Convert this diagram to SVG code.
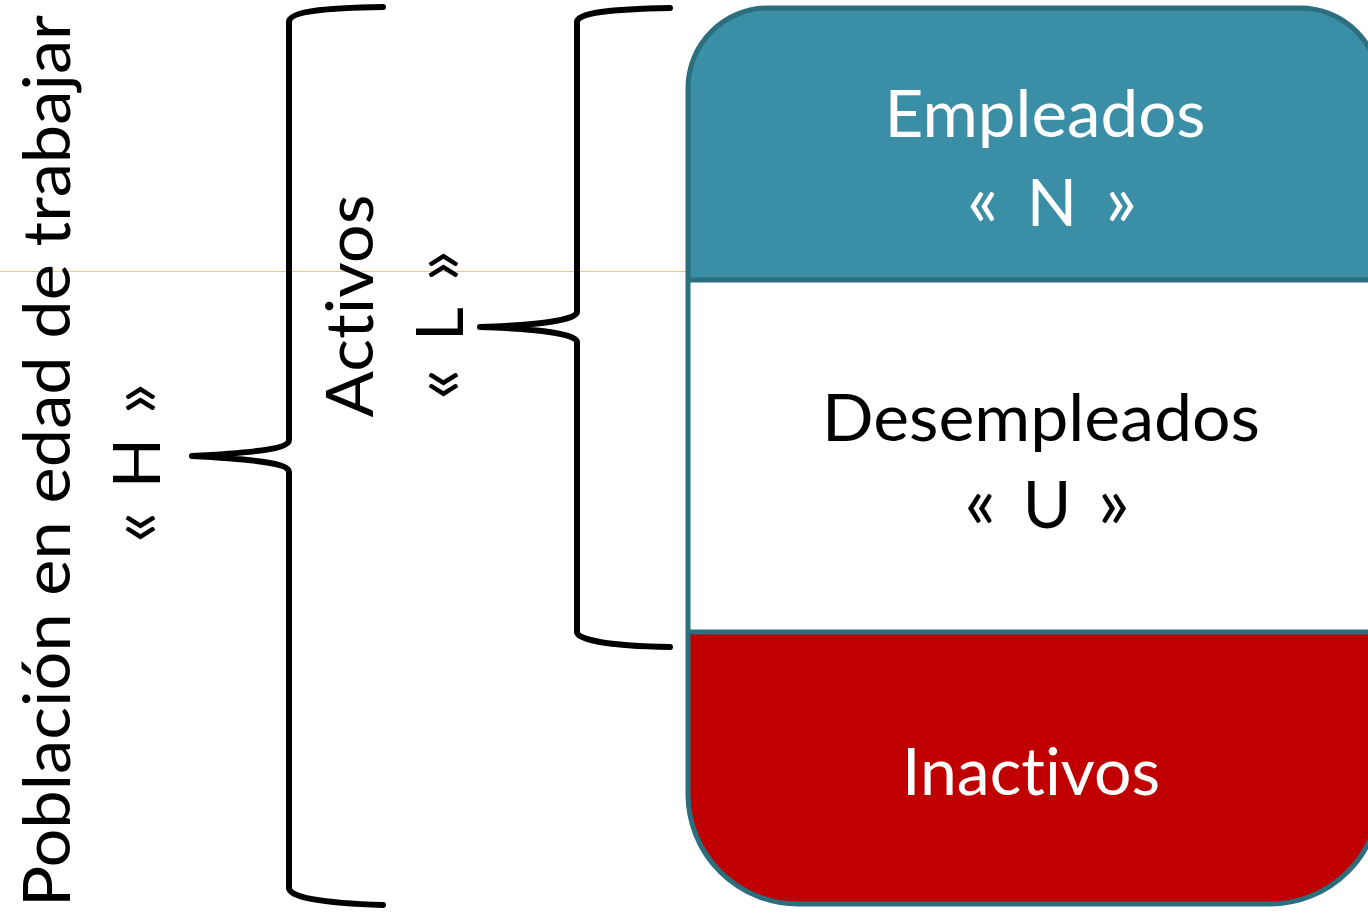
<svg xmlns="http://www.w3.org/2000/svg" width="1368" height="919" viewBox="0 0 1368 919">
<style>
.t{font-family:Lato,"Noto Sans","Liberation Sans",sans-serif;font-size:66px;text-anchor:middle;font-variant-ligatures:none;font-feature-settings:"liga" 0}
.g{font-size:74px}
.w{fill:#ffffff}
.k{fill:#000000}
.brace{fill:none;stroke:#000000;stroke-width:6;stroke-linecap:round;stroke-linejoin:round}
.edge{fill:none;stroke:#2b6e7d;stroke-width:5}
</style>
<rect width="1368" height="919" fill="#ffffff"/>
<line x1="0" y1="271.5" x2="686" y2="271.5" stroke="#ecc880" stroke-width="1"/>
<g id="empleados">
<path d="M688,280 L688,88 A80,80 0 0 1 768,8 L1300,8 A80,80 0 0 1 1380,88 L1380,280 Z" fill="#3a8fa6"/>
<text class="t w" x="1045" y="137" textLength="321" lengthAdjust="spacingAndGlyphs">Empleados</text>
<text class="t w" x="1052" y="226" textLength="170" lengthAdjust="spacing"><tspan class="g">«</tspan> N <tspan class="g">»</tspan></text>
</g>
<g id="desempleados">
<rect x="688" y="280" width="692" height="352" fill="#ffffff"/>
<text class="t k" x="1041" y="441" textLength="438" lengthAdjust="spacingAndGlyphs">Desempleados</text>
<text class="t k" x="1047" y="528" textLength="165" lengthAdjust="spacing"><tspan class="g">«</tspan> U <tspan class="g">»</tspan></text>
</g>
<g id="inactivos">
<path d="M688,632 L688,794 A110,110 0 0 0 798,904 L1270,904 A110,110 0 0 0 1380,794 L1380,632 Z" fill="#c00000"/>
<text class="t w" x="1031" y="795" textLength="258" lengthAdjust="spacingAndGlyphs">Inactivos</text>
</g>
<g id="outline">
<path class="edge" d="M688,280 L688,88 A80,80 0 0 1 768,8 L1300,8 A80,80 0 0 1 1380,88 L1380,794 A110,110 0 0 1 1270,904 L798,904 A110,110 0 0 1 688,794 Z"/>
<line class="edge" x1="688" y1="280" x2="1380" y2="280"/>
<line class="edge" x1="688" y1="632" x2="1380" y2="632"/>
</g>
<g id="poblacion">
<text class="t k" transform="translate(70,461) rotate(-90)" x="0" y="0" textLength="892" lengthAdjust="spacingAndGlyphs">Población en edad de trabajar</text>
<text class="t k" transform="translate(160,463) rotate(-90)" x="0" y="0" textLength="160" lengthAdjust="spacing"><tspan class="g">«</tspan> H <tspan class="g">»</tspan></text>
</g>
<g id="activos">
<text class="t k" transform="translate(373,306) rotate(-90)" x="0" y="0" textLength="223" lengthAdjust="spacingAndGlyphs">Activos</text>
<text class="t k" transform="translate(463,325) rotate(-90)" x="0" y="0" textLength="150" lengthAdjust="spacing"><tspan class="g">«</tspan> L <tspan class="g">»</tspan></text>
</g>
<g id="connectors">
<path class="brace" d="M383,7 C320,8 289,12 289,22 L289,440 C289,449 250,453 192,456 C250,459 289,463 289,472 L289,888 C289,897 320,903 383,905"/>
<path class="brace" d="M670,8 C610,9 577,13 577,22 L577,312 C577,320 540,325 480,327 C540,329 577,334 577,342 L577,632 C577,640 610,646 670,647"/>
</g>
</svg>
